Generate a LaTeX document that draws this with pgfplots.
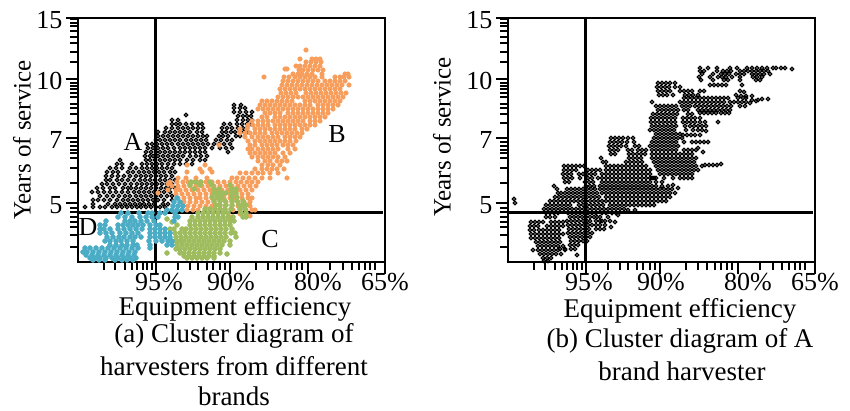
\documentclass[border=0pt]{standalone}
\usepackage{fontspec}
\setmainfont{Liberation Serif}
\usepackage{pgfplots}
\pgfplotsset{compat=1.18}
\definecolor{co}{HTML}{F79E5C}
\definecolor{cg}{HTML}{9FBC5F}
\definecolor{cb}{HTML}{4BACC6}
\pgfplotsset{panel/.style={
  scale only axis,width=307pt,height=244pt,anchor=south west,
  xmin=78,xmax=385,ymin=18,ymax=262,y dir=reverse,clip=false,
  axis line style={line width=2.6pt},
  tick style={black,line width=2.2pt},
  major tick length=12pt,minor tick length=8pt,
  tick align=outside,xtick pos=lower,ytick pos=left,
  xtick={156,230,308,385},
  xticklabels={\hspace*{6pt}95\%,\hspace*{2pt}90\%,\hspace*{20pt}80\%,65\%},
  minor xtick={104,115,125,132,137,143,147,152,178,190,198,207,213,220,225,256,268,277,285,291,297,302,330,343,352,359,365,370,375},
  ytick={18,79,138,203},yticklabels={15,10,7,5},
  minor ytick={19.3,22.7,26,30.7,36.7,42.7,51.7,61.7,82.7,86,89.3,93.3,97.3,104,108,114.3,123,142.3,145.7,150,153.3,158.3,167.7,183.3,208,212,216.7,222.3,226.7,235,246.7},
  tick label style={font=\fontsize{26}{26}\selectfont},
  xticklabel style={yshift=2pt,inner ysep=1pt},
  yticklabel style={yshift=-2pt},
  every axis plot/.append style={only marks},
}}
\tikzset{txt/.style={font=\fontsize{26}{26}\selectfont,inner sep=0pt},
 ylab/.style={font=\fontsize{25}{25}\selectfont,inner sep=0pt,rotate=90},
 captxt/.style={font=\fontsize{27}{27}\selectfont,inner sep=0pt}}
\begin{document}
\begin{tikzpicture}[x=1pt,y=1pt]
\path[use as bounding box] (0,0) rectangle (850,410);
\begin{axis}[panel,at={(78pt,148pt)}]
\addplot[mark=o,mark size=1.8pt,mark options={draw=black,fill=white!55!black,line width=1.3pt}] coordinates {
(85,207)(93,207)(100,207)(105,207)(112,207)(117,207)(122,207)(127,207)(132,207)(137,207)(141,207)(146,207)(151,207)(156,207)(160,207)(165,207)
(93,204)(108,204)(115,204)(120,204)(125,204)(130,204)(135,204)(140,204)(144,204)(149,204)(154,204)(163,204)(168,204)
(93,200)(98,200)(104,200)(110,200)(117,200)(123,200)(128,200)(133,200)(138,200)(143,200)(148,200)(153,200)(158,200)(164,200)(172,200)
(100,196)(107,196)(113,196)(119,196)(125,196)(130,196)(136,196)(141,196)(146,196)(151,196)(156,196)(161,196)(167,196)(172,196)
(92,192)(98,192)(104,192)(110,192)(116,192)(122,192)(128,192)(134,192)(139,192)(144,192)(149,192)(154,192)(159,192)(164,192)(170,192)
(97,188)(103,188)(110,188)(115,188)(123,188)(128,188)(131,188)(136,188)(141,188)(146,188)(151,188)(156,188)(161,188)(166,188)(170,188)(175,188)
(102,184)(107,184)(113,184)(119,184)(125,184)(131,184)(137,184)(142,184)(147,184)(152,184)(157,184)(162,184)(167,184)(172,184)
(106,180)(110,180)(117,180)(122,180)(128,180)(134,180)(140,180)(145,180)(150,180)(155,180)(160,180)(165,180)(170,180)(175,180)
(106,176)(112,176)(118,176)(124,176)(130,176)(136,176)(141,176)(146,176)(151,176)(156,176)(161,176)(166,176)(172,176)
(107,172)(113,172)(118,172)(128,172)(133,172)(139,172)(144,172)(149,172)(154,172)(159,172)(164,172)(170,172)(175,172)
(110,168)(116,168)(122,168)(130,168)(136,168)(142,168)(147,168)(152,168)(157,168)(162,168)(167,168)(172,168)
(117,164)(122,164)(132,164)(142,164)(147,164)(152,164)(157,164)(162,164)(168,164)(174,164)(180,164)(186,164)(192,164)
(120,160)(146,160)(150,160)(155,160)(160,160)(165,160)(170,160)(175,160)(180,160)(187,160)(193,160)(200,160)(205,160)
(145,156)(150,156)(153,156)(158,156)(163,156)(168,156)(173,156)(178,156)(183,156)(190,156)(196,156)(201,156)(207,156)
(146,152)(151,152)(156,152)(160,152)(165,152)(170,152)(175,152)(180,152)(185,152)(190,152)(195,152)(200,152)(205,152)(228,152)
(148,148)(153,148)(158,148)(163,148)(168,148)(174,148)(180,148)(185,148)(190,148)(195,148)(200,148)(205,148)(212,148)(220,148)(226,148)(232,148)
(147,144)(152,144)(157,144)(162,144)(167,144)(172,144)(178,144)(183,144)(188,144)(193,144)(198,144)(203,144)(208,144)(214,144)(219,144)(224,144)(230,144)
(156,140)(160,140)(165,140)(170,140)(175,140)(180,140)(186,140)(191,140)(196,140)(201,140)(206,140)(216,140)(221,140)(227,140)(232,140)
(158,136)(163,136)(168,136)(173,136)(178,136)(183,136)(188,136)(193,136)(198,136)(203,136)(207,136)(219,136)(223,136)(228,136)(236,136)(240,136)
(158,132)(165,132)(170,132)(175,132)(180,132)(185,132)(190,132)(197,132)(202,132)(222,132)(226,132)(231,132)(235,132)(240,132)(244,132)(248,132)
(166,128)(172,128)(178,128)(183,128)(188,128)(193,128)(198,128)(203,128)(222,128)(227,128)(232,128)(238,128)(243,128)(247,128)
(172,124)(176,124)(180,124)(186,124)(192,124)(198,124)(202,124)(224,124)(230,124)(237,124)(242,124)(247,124)(251,124)
(172,120)(178,120)(186,115)(237,120)(243,120)(248,120)(252,120)
(238,116)(243,116)(247,116)(251,116)
(234,112)(240,112)(246,112)(252,112)
(234,108)(240,108)(245,108)(234,105)(241,105)
};
\addplot[mark=*,mark size=2.3pt,mark options={draw=co,fill=co}] coordinates {
(306,50)(300,59)(312,59)(316,59)(320,59)(306,62)(311,62)(316,62)(321,62)
(296,66)(300,66)(305,66)(310,66)(315,66)(320,66)(285,69)(287,69)(299,70)(303,70)(308,70)(313,70)(318,70)(323,70)
(293,74)(298,74)(302,74)(307,74)(312,74)(322,74)(345,74)(348,74)
(264,77)(284,77)(289,77)(295,77)(300,77)(305,77)(310,77)(315,77)(322,77)(335,77)(340,77)(344,77)(349,77)
(283,81)(288,81)(293,81)(298,81)(303,81)(308,81)(313,81)(318,81)(325,81)(330,81)(335,81)(340,81)(345,81)
(282,85)(287,85)(292,85)(297,85)(302,85)(307,85)(312,85)(317,85)(322,85)(327,85)(332,85)(337,85)(342,85)(349,85)
(280,89)(285,89)(290,89)(295,89)(300,89)(305,89)(310,89)(315,89)(320,89)(325,89)(330,89)(335,89)(340,89)
(281,93)(286,93)(291,93)(296,93)(306,93)(311,93)(316,93)(321,93)(326,93)(331,93)(336,93)(341,93)(346,93)
(278,97)(283,97)(288,97)(293,97)(298,97)(303,97)(308,97)(313,97)(318,97)(323,97)(328,97)(333,97)(338,97)(343,97)
(262,101)(267,101)(272,101)(277,101)(282,101)(287,101)(292,101)(305,101)(310,101)(315,101)(320,101)(325,101)(330,101)(335,101)(340,101)
(260,105)(265,105)(270,105)(275,105)(280,105)(285,105)(290,105)(295,105)(300,105)(305,105)(310,105)(318,105)(323,105)(328,105)(333,105)(338,105)
(258,109)(263,109)(268,109)(273,109)(278,109)(283,109)(288,109)(293,109)(298,109)(303,109)(308,109)(313,109)(318,109)(323,109)(328,109)(333,109)
(265,113)(270,113)(275,113)(280,113)(288,113)(293,113)(298,113)(303,113)(308,113)(313,113)(318,113)(323,113)(328,113)
(262,117)(267,117)(275,117)(280,117)(285,117)(290,117)(295,117)(300,117)(305,117)(310,117)(315,117)(320,117)(325,117)
(252,121)(258,121)(263,121)(268,121)(273,121)(278,121)(283,121)(288,121)(293,121)(298,121)(303,121)(310,121)(315,121)(320,121)
(248,125)(253,125)(258,125)(263,125)(268,125)(275,125)(280,125)(285,125)(290,125)(295,125)(300,125)(305,125)(310,125)(315,125)
(240,129)(247,129)(255,129)(260,129)(265,129)(270,129)(275,129)(280,129)(285,129)(290,129)(295,129)(302,129)(307,129)
(240,133)(245,133)(250,133)(255,133)(260,133)(265,133)(272,133)(277,133)(282,133)(287,133)(292,133)(297,133)(302,133)
(245,137)(252,137)(258,137)(263,137)(268,137)(273,137)(278,137)(285,137)(290,137)(295,137)(300,137)
(248,141)(255,141)(260,141)(265,141)(270,141)(275,141)(280,141)(285,141)(290,141)(296,141)
(219,145)(250,145)(255,145)(262,145)(267,145)(272,145)(277,145)(283,145)(288,145)(293,145)
(248,149)(252,149)(258,149)(263,149)(268,149)(273,149)(278,149)(288,149)(295,149)
(250,153)(255,153)(260,153)(265,153)(270,153)(275,153)(283,153)(290,153)
(252,157)(258,157)(263,157)(268,157)(273,157)(278,157)(285,157)
(258,161)(265,161)(270,161)(277,161)(282,161)(287,161)
(262,165)(268,165)(273,165)(280,165)(187,165)(205,165)
(255,169)(262,169)(267,169)(272,169)(277,169)(284,169)(200,169)(210,169)
(240,173)(246,173)(252,173)(258,173)(263,173)(270,173)(278,173)(187,172)(202,172)(212,172)
(287,178)(178,178)(186,178)(196,178)(207,178)(232,178)(237,178)(243,178)(249,178)(255,178)(262,178)(270,178)
(170,182)(177,182)(183,182)(188,182)(194,182)(200,182)(206,182)(212,182)(218,182)(224,182)(230,182)(236,182)(241,182)(247,182)(252,182)(258,182)
(168,184)(172,186)(178,186)(184,186)(190,186)(196,186)(202,186)(208,186)(214,186)(220,186)(226,186)(232,186)(238,186)(244,186)(250,186)(256,186)
(168,190)(176,190)(180,190)(186,190)(192,190)(198,190)(204,190)(210,190)(216,190)(222,190)(228,190)(234,190)(240,190)(246,190)(252,190)
(158,193)(176,194)(182,194)(188,194)(194,194)(200,194)(206,194)(212,194)(218,194)(224,194)(230,194)(236,194)(242,194)(248,194)
(178,198)(184,198)(190,198)(196,198)(200,198)(206,198)(212,198)(218,198)(224,198)(230,198)(236,198)(242,198)(248,198)(252,198)
(184,202)(190,202)(196,202)(202,202)(208,202)(214,202)(226,202)(232,202)(238,202)(244,202)(250,202)
(183,206)(188,206)(194,206)(200,206)(206,206)(212,206)(225,206)(232,206)(238,206)(244,206)(250,206)
(187,210)(193,210)(198,210)(225,210)(233,210)(240,210)(246,210)(252,210)(255,210)
(232,217)(250,216)(228,214)(240,214)
};
\addplot[mark=*,mark size=2.5pt,mark options={draw=cg,fill=cg}] coordinates {
(191,182)(196,182)(201,182)(210,182)(190,185)(200,185)(212,185)(230,185)
(194,189)(214,189)(219,189)(231,189)(236,189)(214,193)(218,193)(222,193)(226,193)(232,193)(236,193)
(212,197)(217,197)(222,197)(232,197)(237,197)(214,201)(220,201)(225,201)(232,201)(237,201)(243,201)
(216,205)(220,205)(226,205)(232,205)(239,205)(243,205)(246,205)
(205,209)(210,209)(215,209)(220,209)(225,209)(231,209)(240,209)(245,209)
(198,213)(203,213)(208,213)(213,213)(218,213)(223,213)(228,213)(241,213)(246,213)
(192,217)(198,217)(203,217)(208,217)(213,217)(218,217)(223,217)(228,217)(233,217)(243,217)(246,217)
(190,221)(195,221)(200,221)(205,221)(210,221)(215,221)(220,221)(225,221)(230,221)(234,221)
(177,225)(190,225)(195,225)(200,225)(205,225)(210,225)(215,225)(220,225)(225,225)(230,225)
(170,229)(174,229)(182,229)(186,229)(191,229)(196,229)(201,229)(206,229)(211,229)(216,229)(221,229)(226,229)(232,229)
(175,233)(180,233)(185,233)(190,233)(195,233)(200,233)(205,233)(210,233)(215,233)(220,233)(225,233)(231,233)(235,233)
(176,237)(181,237)(186,237)(191,237)(196,237)(201,237)(206,237)(211,237)(216,237)(221,237)(226,237)(236,237)
(170,241)(176,241)(180,241)(184,241)(189,241)(194,241)(199,241)(204,241)(209,241)(214,241)(219,241)(224,241)(230,241)
(177,245)(182,245)(187,245)(192,245)(197,245)(202,245)(207,245)(212,245)(217,245)(222,245)(230,245)
(176,249)(180,249)(185,249)(190,249)(195,249)(200,249)(205,249)(210,249)(215,249)(220,249)
(180,253)(184,253)(189,253)(194,253)(199,253)(204,253)(209,253)(214,253)(220,253)
(184,256)(189,256)(194,256)(199,256)(204,256)(209,256)(214,256)
(187,258)(192,258)(197,258)(202,258)(207,258)(214,258)
(167,253)(227,254)(167,219)(172,222)
};
\addplot[black,no markers,line width=2.8pt,sharp plot,forget plot] coordinates {(155.5,18)(155.5,262)};
\addplot[black,no markers,line width=2.6pt,sharp plot,forget plot] coordinates {(78,212.5)(383,212.5)};
\addplot[mark=*,mark size=2.5pt,mark options={draw=cb,fill=cb}] coordinates {
(177,198)(174,202)(180,202)(173,206)(178,206)(183,206)(167,210)(172,210)(177,210)(182,210)
(121,213)(128,213)(139,213)(148,213)(152,213)(160,213)(165,213)(175,213)
(118,217)(125,217)(132,217)(140,217)(146,217)(152,217)(158,217)(175,217)(178,217)
(106,221)(125,221)(130,221)(135,221)(141,221)(147,221)(154,221)(174,221)
(100,225)(105,225)(118,225)(123,225)(128,225)(133,225)(138,225)(143,225)(150,225)(156,225)(160,225)
(100,229)(104,229)(110,229)(118,229)(124,229)(130,229)(136,229)(142,229)(150,229)(155,229)(160,229)(165,229)
(100,233)(106,233)(112,233)(120,233)(126,233)(132,233)(138,233)(150,233)(155,233)(160,233)(165,233)(170,233)
(107,237)(113,237)(119,237)(124,237)(130,237)(135,237)(141,237)(150,237)(155,237)(160,237)(165,237)(170,237)
(105,241)(110,241)(116,241)(121,241)(127,241)(133,241)(149,241)(156,241)(162,241)(168,241)(172,241)
(110,245)(116,245)(122,245)(127,245)(133,245)(137,245)(150,245)(167,245)(172,245)
(85,248)(90,248)(96,248)(102,248)(108,248)(114,248)(120,248)(126,248)(132,248)(138,248)(150,248)
(83,252)(87,252)(93,252)(99,252)(105,252)(111,252)(117,252)(123,252)(129,252)(135,252)
(86,255)(92,255)(98,255)(104,255)(110,255)(116,255)(122,255)(128,255)(134,255)
(90,258)(95,258)(100,258)(106,258)(112,258)(118,258)(124,258)(130,258)(136,258)
(93,260)(99,260)(105,260)(115,260)(122,260)(127,260)(133,260)
};
\node[txt] at (axis cs:133,142) {A};
\node[txt] at (axis cs:337,134) {B};
\node[txt] at (axis cs:270,239) {C};
\node[txt] at (axis cs:88,227) {D};
\node[ylab] at (axis cs:22,140) {Years of service};
\node[captxt] at (axis cs:235,309) {Equipment efficiency};
\node[captxt] at (axis cs:234,336) {(a) Cluster diagram of};
\node[captxt] at (axis cs:234,366) {harvesters from different};
\node[captxt] at (axis cs:234,396) {brands};
\end{axis}
\begin{axis}[panel,at={(508pt,148pt)}]
\addplot[mark=o,mark size=1.8pt,mark options={draw=black,fill=white!55!black,line width=1.3pt}] coordinates {
(84,199)(85,203)(147,255)(103,250)
(101,222)(105,222)(109,222)(113,222)(121,222)(125,222)(129,222)(133,222)
(100,226)(104,226)(108,226)(117,226)(121,226)(125,226)(129,226)(133,226)
(100,230)(104,230)(109,230)(113,230)(117,230)(121,230)(125,230)(129,230)
(101,234)(105,234)(109,234)(113,234)(117,234)(121,234)(125,234)(129,234)(133,234)
(101,238)(105,238)(109,238)(113,238)(117,238)(121,238)(125,238)(129,238)
(106,242)(110,242)(114,242)(118,242)(122,242)(126,242)(130,242)
(108,246)(112,246)(116,246)(120,246)(124,246)(128,246)(133,246)
(108,250)(112,250)(116,250)(120,250)(124,250)(128,250)(135,250)
(110,254)(114,254)(118,254)(122,254)(126,254)(131,254)(113,258)(117,258)(121,258)(114,261)(118,261)
(181,138)(185,138)(189,138)(193,138)(198,138)(203,138)
(180,142)(184,142)(188,142)(192,142)(197,142)(204,142)
(179,146)(183,146)(187,146)(191,146)(196,146)(205,146)(209,146)
(180,150)(184,150)(188,150)(198,150)(202,150)(208,150)(212,150)(216,150)
(181,154)(185,154)(199,154)(203,154)(207,154)(211,154)(215,154)
(171,158)(199,158)(203,158)(207,158)(211,158)
(173,162)(176,162)(196,162)(200,162)(204,162)(208,162)(212,162)
(134,166)(138,166)(142,166)(146,166)(150,166)(154,166)(176,166)(180,166)(184,166)(188,166)(192,166)(196,166)(200,166)(204,166)(208,166)(212,166)(216,166)
(134,170)(138,170)(142,170)(146,170)(158,170)(162,170)(166,170)(170,170)(176,170)(180,170)(184,170)(188,170)(192,170)(196,170)(200,170)(204,170)(208,170)(212,170)(216,170)(220,170)
(133,174)(137,174)(141,174)(149,174)(153,174)(157,174)(161,174)(165,174)(172,174)(176,174)(180,174)(184,174)(188,174)(192,174)(196,174)(200,174)(204,174)(208,174)(212,174)(216,174)(220,174)
(134,178)(138,178)(142,178)(150,178)(158,178)(162,178)(168,178)(172,178)(176,178)(180,178)(184,178)(188,178)(192,178)(196,178)(200,178)(204,178)(208,178)(212,178)(216,178)(220,178)(224,178)
(135,182)(139,182)(155,182)(159,182)(163,182)(172,182)(176,182)(180,182)(184,182)(188,182)(192,182)(196,182)(200,182)(204,182)(208,182)(212,182)(216,182)(220,182)(226,182)(232,182)
(124,186)(156,186)(160,186)(164,186)(170,186)(174,186)(178,186)(182,186)(186,186)(190,186)(194,186)(198,186)(202,186)(206,186)(210,186)(214,186)(218,186)(222,186)(226,186)(232,186)(238,186)(243,185)
(127,189)(137,189)(141,189)(145,189)(149,189)(153,189)(157,189)(161,189)(165,189)(170,189)(174,189)(178,189)(182,189)(186,189)(190,189)(194,189)(198,189)(202,189)(206,189)(210,189)(214,189)(218,189)(222,189)(226,189)(230,189)(234,189)(238,189)(242,189)(248,188)
(128,193)(131,193)(135,193)(139,193)(143,193)(147,193)(151,193)(155,193)(159,193)(163,193)(167,193)(172,193)(176,193)(180,193)(184,193)(188,193)(192,193)(196,193)(200,193)(204,193)(208,193)(212,193)(216,193)(220,193)(224,193)(228,193)(232,193)(236,193)(240,193)(245,193)
(125,197)(129,197)(133,197)(137,197)(141,197)(145,197)(149,197)(153,197)(157,197)(161,197)(165,197)(169,197)(176,197)(180,197)(184,197)(188,197)(192,197)(196,197)(200,197)(204,197)(208,197)(212,197)(216,197)(220,197)(224,197)(228,197)(232,197)(236,197)(240,197)
(120,201)(124,201)(128,201)(132,201)(136,201)(140,201)(144,201)(148,201)(152,201)(156,201)(160,201)(164,201)(168,201)(172,201)(176,201)(180,201)(184,201)(188,201)(192,201)(196,201)(200,201)(204,201)(208,201)(212,201)(216,201)(220,201)(224,201)(228,201)(232,201)(236,201)
(116,205)(120,205)(124,205)(128,205)(132,205)(136,205)(140,205)(149,205)(153,205)(157,205)(161,205)(165,205)(169,205)(173,205)(180,205)(184,205)(188,205)(192,205)(196,205)(200,205)(204,205)(208,205)(212,205)(216,205)(220,205)(224,205)
(114,209)(118,209)(122,209)(126,209)(130,209)(134,209)(138,209)(142,209)(146,209)(150,209)(154,209)(158,209)(162,209)(166,209)(170,209)(174,209)(178,209)(182,209)(186,209)(190,209)(194,209)(198,210)(205,210)
(116,213)(120,213)(124,213)(128,213)(138,213)(142,213)(146,213)(150,213)(154,213)(158,213)(162,213)(166,213)(172,213)(176,213)(182,213)(186,213)
(116,217)(120,217)(125,217)(140,217)(144,217)(148,217)(152,217)(156,217)(160,217)(164,217)(167,217)(170,217)(178,217)(188,215)
(137,221)(141,221)(145,221)(149,221)(153,221)(157,221)(160,221)(166,221)(170,221)(172,221)(175,221)(180,221)(185,222)
(138,225)(142,225)(146,225)(150,225)(154,225)(158,225)(162,225)(166,225)(170,225)(175,225)(181,227)
(139,229)(143,229)(147,229)(151,229)(155,229)(159,229)(166,229)(170,229)(174,229)
(138,233)(142,233)(146,233)(150,233)(154,233)(158,233)(162,233)(140,237)(144,237)(148,237)(152,237)(156,237)(160,237)
(141,241)(145,241)(149,241)(153,241)(157,241)(140,245)(144,245)(148,245)(141,249)(145,249)(135,249)(130,249)
(270,68)(278,68)(287,68)(300,68)(307,68)(317,68)(322,68)(327,68)(332,68)(337,68)(343,68)(346,68)(351,68)(355,68)(362,69)
(270,71)(274,71)(287,71)(293,71)(297,71)(301,71)(310,71)(314,71)(318,71)(322,71)(326,71)(330,71)(334,71)(338,71)
(272,74)(283,74)(291,74)(295,74)(299,74)(306,74)(310,74)(314,74)(322,74)(326,74)(330,74)(334,74)(340,74)
(269,77)(280,77)(288,77)(292,77)(296,77)(302,77)(310,77)(323,77)(327,77)(332,77)
(271,80)(283,80)(294,80)(298,80)(310,80)(326,80)(330,80)
(228,83)(232,83)(236,83)(240,83)(245,83)(280,85)(284,85)(288,85)(292,85)(296,85)(312,85)
(227,87)(231,87)(235,87)(239,87)(245,87)(250,87)
(228,91)(232,91)(236,91)(240,91)(250,91)(254,91)(258,91)(262,91)(270,91)(274,91)(310,91)(314,92)
(229,95)(233,95)(237,95)(243,95)(255,95)(259,95)(263,95)(268,95)(306,95)(311,96)(316,96)(322,96)
(254,98)(258,98)(262,98)(266,98)(270,98)(274,98)(278,98)(282,98)(286,98)(290,98)(294,98)(298,98)(308,98)(313,98)(316,98)
(222,102)(250,102)(254,102)(258,102)(262,102)(266,102)(270,102)(274,102)(278,102)(282,102)(286,102)(290,102)(294,102)(300,102)(304,102)(308,102)(312,102)(316,102)
(226,106)(230,106)(234,106)(238,106)(242,106)(246,106)(252,106)(256,106)(260,106)(265,106)(269,106)(273,106)(277,106)(281,106)(285,106)(289,106)(293,106)(297,106)(301,106)(310,106)(315,106)(322,100)(328,100)(332,99)(338,99)
(228,110)(232,110)(236,110)(240,110)(244,110)(248,110)(254,110)(258,110)(268,110)(272,110)(276,110)(280,110)(284,110)(288,110)(292,110)(296,110)(300,110)(320,103)(326,101)
(223,114)(227,114)(231,114)(235,114)(239,114)(243,114)(247,114)(258,114)(262,114)(270,113)(274,113)(278,113)(282,113)(286,113)(291,113)(295,113)(299,113)
(221,118)(225,118)(229,118)(233,118)(237,118)(241,118)(245,118)(253,118)(257,118)(261,118)(265,118)(270,118)
(221,122)(225,122)(229,122)(233,122)(237,122)(241,122)(245,122)(253,122)(257,122)(261,122)(265,122)(270,122)(275,122)(288,122)
(222,126)(226,126)(230,126)(234,126)(238,126)(242,126)(246,126)(255,126)(260,126)(264,126)(268,126)(272,126)(276,126)
(220,130)(224,130)(228,130)(232,130)(236,130)(240,130)(244,130)(256,130)(263,130)(268,130)(272,130)(276,131)
(226,134)(230,134)(234,134)(238,134)(242,134)(246,134)(250,134)(253,135)(257,135)(261,135)(265,135)(270,135)
(224,138)(228,138)(232,138)(236,138)(240,138)(244,138)(248,138)(252,138)
(222,142)(226,142)(230,142)(234,142)(238,142)(242,142)(246,142)(254,142)(262,142)(266,142)(270,142)(274,142)(278,142)
(220,146)(224,146)(228,146)(232,146)(236,146)(240,146)(244,146)(248,146)(268,148)
(222,150)(226,150)(230,150)(234,150)(238,150)(242,150)(246,150)(254,150)(258,150)(262,150)(266,150)(273,152)
(222,154)(226,154)(230,154)(234,154)(238,154)(242,154)(246,154)(250,154)(254,154)(258,154)(262,154)
(222,158)(226,158)(230,158)(234,158)(238,158)(242,158)(246,158)(250,158)(254,158)(258,158)(262,158)(266,158)
(224,162)(228,162)(232,162)(236,162)(240,162)(244,162)(248,162)(252,162)(256,162)(260,162)(264,162)
(226,166)(230,166)(234,166)(238,166)(242,166)(246,166)(250,166)(254,166)(258,166)(262,166)(266,166)(272,166)(275,165)(279,165)(283,165)(287,165)(291,164)
(228,170)(232,170)(236,170)(240,170)(244,170)(248,170)(252,170)(256,170)(260,170)(264,170)(268,170)
(230,174)(234,174)(238,174)(242,174)(246,174)(250,174)(254,174)(258,174)(262,174)
(222,178)(226,178)(234,178)(243,178)(250,178)(254,178)(258,178)(262,178)
};
\addplot[black,no markers,line width=2.8pt,sharp plot,forget plot] coordinates {(155.5,18)(155.5,262)};
\addplot[black,no markers,line width=2.6pt,sharp plot,forget plot] coordinates {(78,212.5)(383,212.5)};
\node[ylab] at (axis cs:12,137) {Years of service};
\node[captxt] at (axis cs:250,311) {Equipment efficiency};
\node[captxt] at (axis cs:250,341) {(b) Cluster diagram of A};
\node[captxt] at (axis cs:252,371) {brand harvester};
\end{axis}
\end{tikzpicture}
\end{document}
